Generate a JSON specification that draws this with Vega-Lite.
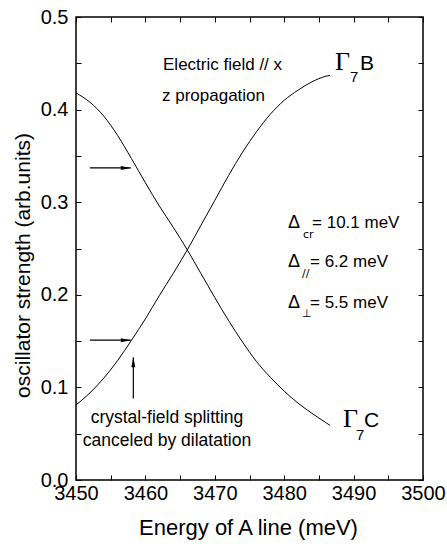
{
  "$schema": "https://vega.github.io/schema/vega-lite/v6.json",
  "autosize": {"type": "none"},
  "padding": {"left": 76, "top": 17, "right": 24, "bottom": 68},
  "width": 347,
  "height": 463,
  "background": "white",
  "config": {
    "view": {"stroke": "black", "strokeWidth": 1.5},
    "axis": {"labelFont": "Liberation Sans", "titleFont": "Liberation Sans", "labelColor": "black", "titleColor": "black", "tickColor": "black", "domainColor": "black", "grid": false, "titleFontWeight": "normal", "labelOverlap": false, "labelFlush": false, "labelBound": false, "tickWidth": 1}
  },
  "datasets": {
    "curves": [
      {"x": 3450, "y": 0.418, "s": "C"}, {"x": 3452, "y": 0.408, "s": "C"}, {"x": 3454, "y": 0.393, "s": "C"},
      {"x": 3456, "y": 0.372, "s": "C"}, {"x": 3458, "y": 0.347, "s": "C"}, {"x": 3460, "y": 0.321, "s": "C"},
      {"x": 3462, "y": 0.296, "s": "C"}, {"x": 3464, "y": 0.273, "s": "C"}, {"x": 3466, "y": 0.249, "s": "C"},
      {"x": 3468, "y": 0.223, "s": "C"}, {"x": 3470, "y": 0.197, "s": "C"}, {"x": 3472, "y": 0.172, "s": "C"},
      {"x": 3474, "y": 0.149, "s": "C"}, {"x": 3476, "y": 0.128, "s": "C"}, {"x": 3478, "y": 0.111, "s": "C"},
      {"x": 3480, "y": 0.096, "s": "C"}, {"x": 3482, "y": 0.083, "s": "C"}, {"x": 3484, "y": 0.072, "s": "C"},
      {"x": 3486, "y": 0.062, "s": "C"}, {"x": 3486.6, "y": 0.059, "s": "C"},
      {"x": 3450, "y": 0.081, "s": "B"}, {"x": 3452, "y": 0.094, "s": "B"}, {"x": 3454, "y": 0.110, "s": "B"},
      {"x": 3456, "y": 0.129, "s": "B"}, {"x": 3458, "y": 0.151, "s": "B"}, {"x": 3460, "y": 0.174, "s": "B"},
      {"x": 3462, "y": 0.199, "s": "B"}, {"x": 3464, "y": 0.223, "s": "B"}, {"x": 3466, "y": 0.248, "s": "B"},
      {"x": 3468, "y": 0.275, "s": "B"}, {"x": 3470, "y": 0.302, "s": "B"}, {"x": 3472, "y": 0.329, "s": "B"},
      {"x": 3474, "y": 0.354, "s": "B"}, {"x": 3476, "y": 0.376, "s": "B"}, {"x": 3478, "y": 0.395, "s": "B"},
      {"x": 3480, "y": 0.410, "s": "B"}, {"x": 3482, "y": 0.421, "s": "B"}, {"x": 3484, "y": 0.430, "s": "B"},
      {"x": 3486, "y": 0.436, "s": "B"}, {"x": 3486.6, "y": 0.437, "s": "B"}
    ],
    "notes": [
      {"x": 3462.54, "y": 0.4428, "t": "Electric field // x"},
      {"x": 3462.39, "y": 0.4093, "t": "z propagation"}
    ],
    "crystal": [
      {"x": 3463.11, "y": 0.0616, "t": "crystal-field splitting"},
      {"x": 3463.11, "y": 0.0367, "t": "canceled by dilatation"}
    ],
    "delta": [
      {"x": 3480.55, "y": 0.2721, "t": "Δ"},
      {"x": 3480.55, "y": 0.2300, "t": "Δ"},
      {"x": 3480.55, "y": 0.1857, "t": "Δ"}
    ],
    "deltaSub": [
      {"x": 3482.71, "y": 0.2613, "t": "cr"},
      {"x": 3482.56, "y": 0.2192, "t": "//"},
      {"x": 3482.56, "y": 0.1760, "t": "⊥"}
    ],
    "deltaVal": [
      {"x": 3484.01, "y": 0.2721, "t": "= 10.1 meV"},
      {"x": 3483.72, "y": 0.2300, "t": "= 6.2 meV"},
      {"x": 3483.72, "y": 0.1857, "t": "= 5.5 meV"}
    ],
    "gamma": [
      {"x": 3487.32, "y": 0.4428, "t": "Γ"},
      {"x": 3488.47, "y": 0.0572, "t": "Γ"}
    ],
    "gammaSub": [
      {"x": 3489.48, "y": 0.4298, "t": "7"},
      {"x": 3490.35, "y": 0.0432, "t": "7"}
    ],
    "gammaLetter": [
      {"x": 3490.92, "y": 0.4428, "t": "B"},
      {"x": 3491.50, "y": 0.0572, "t": "C"}
    ],
    "hArrows": [
      {"x": 3452.0, "x2": 3457.9, "y": 0.337},
      {"x": 3452.0, "x2": 3457.9, "y": 0.151}
    ],
    "vArrows": [
      {"x": 3458.26, "y": 0.088, "y2": 0.1325}
    ]
  },
  "resolve": {"axis": {"x": "independent", "y": "independent"}},
  "layer": [
    {
      "data": {"name": "curves"},
      "mark": {"type": "line", "color": "black", "strokeWidth": 1, "interpolate": "monotone"},
      "encoding": {
        "x": {"field": "x", "type": "quantitative", "scale": {"domain": [3450, 3500], "nice": false, "zero": false},
              "axis": {"orient": "bottom", "offset": -5, "tickSize": 5, "values": [3450, 3455, 3460, 3465, 3470, 3475, 3480, 3485, 3490, 3495, 3500], "labelExpr": "datum.value % 10 === 0 ? datum.label : ''", "format": "d", "domain": false, "labelFontSize": 20, "labelPadding": 3, "labelBaseline": "top", "title": "Energy of A line (meV)", "titleFontSize": 22, "titleX": 172, "titleY": 59, "titleBaseline": "alphabetic", "titleAlign": "center"}},
        "y": {"field": "y", "type": "quantitative", "scale": {"domain": [0, 0.5], "nice": false, "zero": false},
              "axis": {"orient": "left", "offset": -5, "tickSize": 5, "values": [0, 0.05, 0.1, 0.15, 0.2, 0.25, 0.3, 0.35, 0.4, 0.45, 0.5], "labelExpr": "round(datum.value * 100) % 10 === 0 ? format(datum.value, '.1f') : ''", "domain": false, "labelFontSize": 20, "labelPadding": 8, "title": "oscillator strength (arb.units)", "titleFontSize": 21, "titleX": -58, "titleY": 248, "titleAngle": -90, "titleBaseline": "middle", "titleAlign": "center"}},
        "detail": {"field": "s", "type": "nominal"}
      }
    },
    {
      "data": {"name": "notes"},
      "mark": {"type": "text", "font": "Liberation Sans", "fontSize": 17, "align": "left", "baseline": "alphabetic", "color": "black"},
      "encoding": {
        "x": {"field": "x", "type": "quantitative", "axis": {"orient": "top", "offset": -5, "tickSize": 5, "values": [3450, 3455, 3460, 3465, 3470, 3475, 3480, 3485, 3490, 3495, 3500], "labels": false, "domain": false, "title": null}},
        "y": {"field": "y", "type": "quantitative", "axis": {"orient": "right", "offset": -5, "tickSize": 5, "values": [0, 0.05, 0.1, 0.15, 0.2, 0.25, 0.3, 0.35, 0.4, 0.45, 0.5], "labels": false, "domain": false, "title": null}},
        "text": {"field": "t"}
      }
    },
    {
      "data": {"name": "crystal"},
      "mark": {"type": "text", "font": "Liberation Sans", "fontSize": 17.5, "align": "center", "baseline": "alphabetic", "color": "black"},
      "encoding": {
        "x": {"field": "x", "type": "quantitative", "axis": null},
        "y": {"field": "y", "type": "quantitative", "axis": null},
        "text": {"field": "t"}
      }
    },
    {
      "data": {"name": "gamma"},
      "mark": {"type": "text", "font": "Liberation Serif", "fontSize": 26, "align": "left", "baseline": "alphabetic", "color": "black"},
      "encoding": {
        "x": {"field": "x", "type": "quantitative", "axis": null},
        "y": {"field": "y", "type": "quantitative", "axis": null},
        "text": {"field": "t"}
      }
    },
    {
      "data": {"name": "gammaSub"},
      "mark": {"type": "text", "font": "Liberation Sans", "fontSize": 15, "align": "left", "baseline": "alphabetic", "color": "black"},
      "encoding": {
        "x": {"field": "x", "type": "quantitative", "axis": null},
        "y": {"field": "y", "type": "quantitative", "axis": null},
        "text": {"field": "t"}
      }
    },
    {
      "data": {"name": "gammaLetter"},
      "mark": {"type": "text", "font": "Liberation Sans", "fontSize": 21, "align": "left", "baseline": "alphabetic", "color": "black"},
      "encoding": {
        "x": {"field": "x", "type": "quantitative", "axis": null},
        "y": {"field": "y", "type": "quantitative", "axis": null},
        "text": {"field": "t"}
      }
    },
    {
      "data": {"name": "delta"},
      "mark": {"type": "text", "font": "Liberation Sans", "fontSize": 18, "align": "left", "baseline": "alphabetic", "color": "black"},
      "encoding": {
        "x": {"field": "x", "type": "quantitative", "axis": null},
        "y": {"field": "y", "type": "quantitative", "axis": null},
        "text": {"field": "t"}
      }
    },
    {
      "data": {"name": "deltaSub"},
      "mark": {"type": "text", "font": "DejaVu Sans", "fontSize": 11, "align": "left", "baseline": "alphabetic", "color": "black"},
      "encoding": {
        "x": {"field": "x", "type": "quantitative", "axis": null},
        "y": {"field": "y", "type": "quantitative", "axis": null},
        "text": {"field": "t"}
      }
    },
    {
      "data": {"name": "deltaVal"},
      "mark": {"type": "text", "font": "Liberation Sans", "fontSize": 17, "align": "left", "baseline": "alphabetic", "color": "black"},
      "encoding": {
        "x": {"field": "x", "type": "quantitative", "axis": null},
        "y": {"field": "y", "type": "quantitative", "axis": null},
        "text": {"field": "t"}
      }
    },
    {
      "data": {"name": "hArrows"},
      "mark": {"type": "rule", "color": "black", "strokeWidth": 1.2},
      "encoding": {
        "x": {"field": "x", "type": "quantitative", "axis": null},
        "x2": {"field": "x2"},
        "y": {"field": "y", "type": "quantitative", "axis": null}
      }
    },
    {
      "data": {"name": "hArrows"},
      "mark": {"type": "point", "shape": "M1,0L-1,-0.4L-1,0.4Z", "size": 100, "filled": true, "color": "black", "opacity": 1, "xOffset": -5},
      "encoding": {
        "x": {"field": "x2", "type": "quantitative", "axis": null},
        "y": {"field": "y", "type": "quantitative", "axis": null}
      }
    },
    {
      "data": {"name": "vArrows"},
      "mark": {"type": "rule", "color": "black", "strokeWidth": 1.2},
      "encoding": {
        "x": {"field": "x", "type": "quantitative", "axis": null},
        "y": {"field": "y", "type": "quantitative", "axis": null},
        "y2": {"field": "y2"}
      }
    },
    {
      "data": {"name": "vArrows"},
      "mark": {"type": "point", "shape": "M0,-1L-0.4,1L0.4,1Z", "size": 100, "filled": true, "color": "black", "opacity": 1, "yOffset": 5},
      "encoding": {
        "x": {"field": "x", "type": "quantitative", "axis": null},
        "y": {"field": "y2", "type": "quantitative", "axis": null}
      }
    }
  ]
}
